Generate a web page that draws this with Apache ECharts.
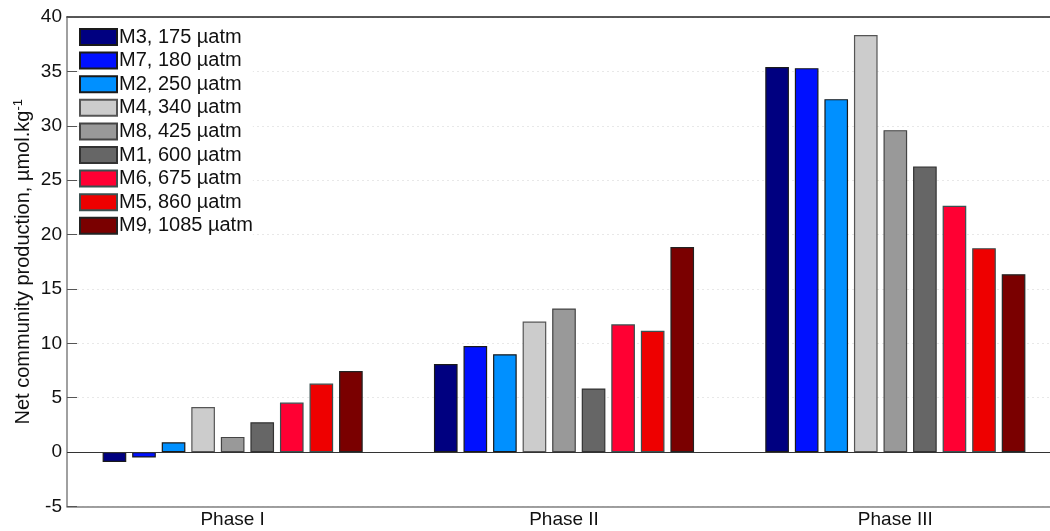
<!DOCTYPE html>
<html>
<head>
<meta charset="utf-8">
<script src="https://cdn.jsdelivr.net/npm/echarts@6/dist/echarts.min.js"></script>
<style>
html,body{margin:0;padding:0;background:#fff;}
#chart{width:1050px;height:531px;}
</style>
</head>
<body>
<div id="chart"></div>
<script>
const categories = ['Phase I', 'Phase II', 'Phase III'];
const seriesNames = ['M3, 175 µatm', 'M7, 180 µatm', 'M2, 250 µatm', 'M4, 340 µatm', 'M8, 425 µatm', 'M1, 600 µatm', 'M6, 675 µatm', 'M5, 860 µatm', 'M9, 1085 µatm'];
const M3 = [-0.9, 8.1, 35.4];
const M7 = [-0.5, 9.75, 35.3];
const M2 = [0.9, 9.0, 32.45];
const M4 = [4.15, 12.0, 38.35];
const M8 = [1.4, 13.2, 29.6];
const M1 = [2.75, 5.85, 26.25];
const M6 = [4.55, 11.75, 22.65];
const M5 = [6.3, 11.15, 18.75];
const M9 = [7.45, 18.85, 16.35];
const seriesValues = [M3, M7, M2, M4, M8, M1, M6, M5, M9];
const colors = ['#000080', '#0010ff', '#0090ff', '#cccccc', '#999999', '#666666', '#ff0033', '#ee0000', '#7a0000'];
const borders = ['#1a1a1a', '#1a1a1a', '#1a1a1a', '#555555', '#444444', '#333333', '#3a5050', '#3a5050', '#222222'];
const yTicks = {min: -5, max: 40, interval: 5};

const chart = echarts.init(document.getElementById('chart'));
const series = seriesNames.map((name, i) => ({
  name: name,
  type: 'bar',
  data: seriesValues[i],
  barGap: '25%',
  barCategoryGap: '21.5%',
  itemStyle: {color: colors[i], borderColor: borders[i], borderWidth: 1.2},
  emphasis: {disabled: true}
}));
series[0].markLine = {
  silent: true,
  symbol: 'none',
  label: {show: false},
  lineStyle: {color: '#333', width: 1, type: 'solid'},
  data: [{yAxis: 0}]
};

chart.setOption({
  animation: false,
  textStyle: {fontFamily: 'Arial, "Liberation Sans", sans-serif'},
  grid: {left: 67, right: -11, top: 17, bottom: 24.5, containLabel: false, outerBoundsMode: 'none'},
  legend: {
    orient: 'vertical',
    left: 79,
    top: 27,
    icon: 'rect',
    itemWidth: 37,
    itemHeight: 16,
    itemGap: 3.6,
    data: seriesNames,
    textStyle: {fontSize: 20, lineHeight: 20, color: '#111', padding: [0, 0, 0, -3]},
    backgroundColor: '#fff',
    padding: [0, 0, 0, 0]
  },
  xAxis: [{
    type: 'category',
    data: categories,
    position: 'bottom',
    axisLine: {onZero: false, lineStyle: {color: '#808080', width: 1.5}},
    axisTick: {inside: true, alignWithLabel: true, length: 8, lineStyle: {color: '#333'}},
    axisLabel: {fontSize: 19, color: '#111', margin: 4},
    splitLine: {show: false}
  }, {
    type: 'category',
    data: categories,
    position: 'top',
    axisLine: {onZero: false, lineStyle: {color: '#222', width: 1.5}},
    axisTick: {inside: true, alignWithLabel: true, length: 8, lineStyle: {color: '#555'}},
    axisLabel: {show: false},
    splitLine: {show: false}
  }],
  yAxis: {
    type: 'value',
    min: yTicks.min,
    max: yTicks.max,
    interval: yTicks.interval,
    axisLine: {show: true, lineStyle: {color: '#808080', width: 1.5}},
    axisTick: {show: true, inside: true, length: 10, lineStyle: {color: '#555'}},
    axisLabel: {fontSize: 19, color: '#111', margin: 5},
    splitLine: {show: true, lineStyle: {color: '#e8e8e8', type: [2, 3], width: 1}},
    name: 'Net community production, µmol.kg{sup|-1}',
    nameLocation: 'middle',
    nameMoveOverlap: false,
    nameGap: 32,
    nameTextStyle: {
      fontSize: 20, color: '#111',
      rich: {sup: {fontSize: 13, verticalAlign: 'top', padding: [0, 0, 10, 0], color: '#111'}}
    }
  },
  series: series
});
</script>
</body>
</html>
